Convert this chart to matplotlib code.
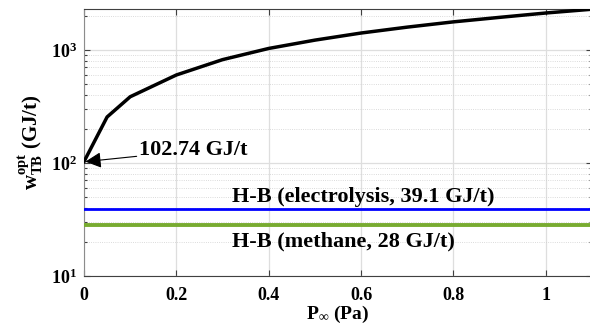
import numpy as np
import matplotlib
matplotlib.use("Agg")
import matplotlib.pyplot as plt
from matplotlib.ticker import FixedLocator, FixedFormatter, LogLocator, NullFormatter

plt.rcParams['font.family'] = ['Liberation Serif', 'DejaVu Serif']
plt.rcParams['font.weight'] = 'bold'
plt.rcParams['mathtext.fontset'] = 'custom'
plt.rcParams['mathtext.rm'] = 'Liberation Serif:bold'
plt.rcParams['mathtext.bf'] = 'Liberation Serif:bold'
plt.rcParams['mathtext.it'] = 'Liberation Serif:bold'

# data
p_inf = [0, 0.05, 0.1, 0.2, 0.3, 0.4, 0.5, 0.6, 0.7, 0.8, 0.9, 1.0, 1.1]
w_tb = [102.74, 255, 385, 600, 820, 1030, 1220, 1410, 1590, 1770, 1940, 2120, 2290]
hb_elec = 39.1
hb_meth = 28
xticks = [0, 0.2, 0.4, 0.6, 0.8, 1]
xtick_labels = ['0', '0.2', '0.4', '0.6', '0.8', '1']
yticks = [10, 100, 1000]
ytick_labels = [r'$\mathbf{10^{1}}$', r'$\mathbf{10^{2}}$', r'$\mathbf{10^{3}}$']

fig = plt.figure(figsize=(5.9, 3.31), dpi=100)
ax = fig.add_axes([84/590, 55/331, 508/590, 267/331])

ax.plot([0, 1.1], [hb_elec, hb_elec], color=(0, 0, 1), lw=2.0, zorder=3)
ax.plot([0, 1.1], [hb_meth, hb_meth], color=(0.47, 0.67, 0.19), lw=2.8, zorder=3)
ax.plot(p_inf, w_tb, color='k', lw=2.5, zorder=4)

ax.set_yscale('log')
ax.set_xlim(0, 1.1)
ax.set_ylim(10, 2300)

ax.xaxis.set_major_locator(FixedLocator(xticks))
ax.xaxis.set_major_formatter(FixedFormatter(xtick_labels))
ax.yaxis.set_major_locator(FixedLocator(yticks))
ax.yaxis.set_major_formatter(FixedFormatter(ytick_labels))
ax.yaxis.set_minor_locator(LogLocator(base=10, subs=np.arange(2, 10)))
ax.yaxis.set_minor_formatter(NullFormatter())

ax.grid(True, which='major', axis='both', color='#dedede', lw=0.9)
ax.grid(True, which='minor', axis='y', color='#cfcfcf', lw=0.6, ls=':')
ax.set_axisbelow(True)

ax.tick_params(which='both', direction='in', top=True, right=True,
               labelsize=13, colors='#404040', length=4, width=0.8)
ax.tick_params(which='minor', length=2)
ax.tick_params(axis='x', pad=8)
ax.tick_params(axis='y', pad=5)
for lab in ax.get_xticklabels() + ax.get_yticklabels():
    lab.set_color('black')
    lab.set_fontweight('bold')
for s in ax.spines.values():
    s.set_color('#404040')
    s.set_linewidth(0.8)
ax.spines['left'].set_color('#8c8c8c')

ax.set_xlabel(r'P$_{\mathrm{\infty}}$ (Pa)', fontsize=14, fontweight='bold', labelpad=0)
ax.set_ylabel(r'w$_{\mathbf{TB}}^{\mathbf{opt}}$ (GJ/t)', fontsize=15, fontweight='bold', labelpad=4)

ax.text(0.32, 50, 'H-B (electrolysis, 39.1 GJ/t)', fontsize=16, fontweight='bold',
        va='center', ha='left')
ax.text(0.32, 20.0, 'H-B (methane, 28 GJ/t)', fontsize=16, fontweight='bold',
        va='center', ha='left')
ax.annotate('102.74 GJ/t', xy=(0.003, w_tb[0]), xytext=(0.12, 129),
            fontsize=16, fontweight='bold', va='center', ha='left',
            arrowprops=dict(arrowstyle='-|>,head_length=0.6,head_width=0.3', color='k',
                            lw=0.8, mutation_scale=16, shrinkA=0, shrinkB=0))

fig.savefig('out.png', dpi=100)
